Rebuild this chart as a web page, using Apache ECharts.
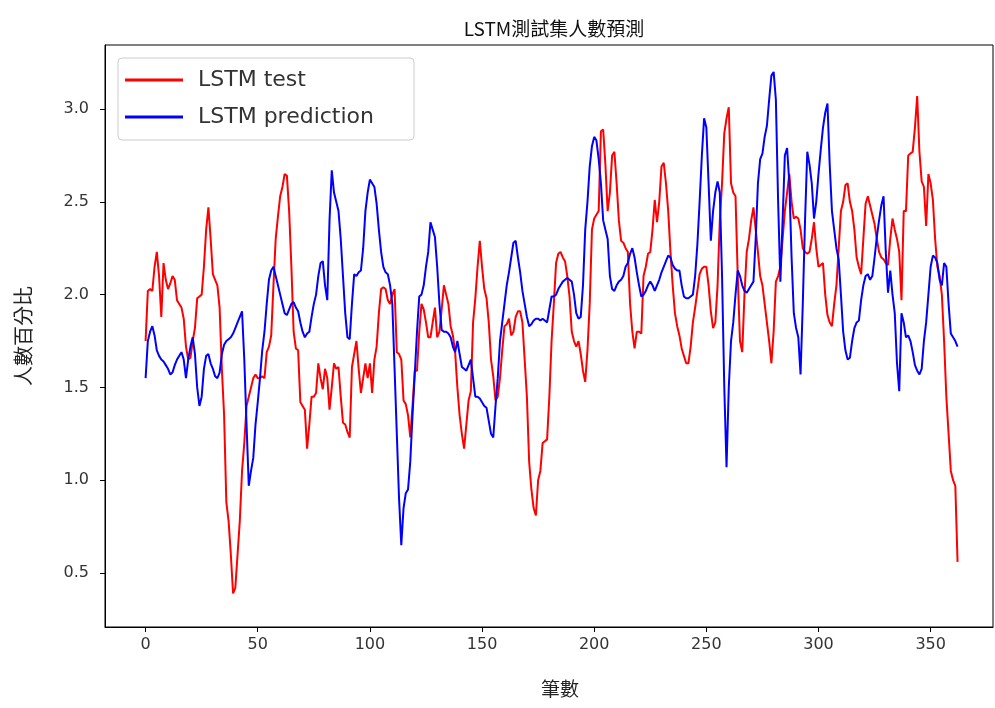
<!DOCTYPE html>
<html>
<head>
<meta charset="utf-8">
<script src="https://cdn.jsdelivr.net/npm/echarts@6/dist/echarts.min.js"></script>
<style>html,body{margin:0;padding:0;background:#fff}#c{width:995px;height:708px}</style>
</head>
<body>
<div id="c"></div>
<script>
const titleText = 'LSTM測試集人數預測';
const xName = '筆數';
const yName = '人數百分比';
const seriesNames = ['LSTM test', 'LSTM prediction'];
const xTicks = [0, 50, 100, 150, 200, 250, 300, 350];
const yTicks = [0.5, 1.0, 1.5, 2.0, 2.5, 3.0];

const testValues = [
1.75,2.02,2.03,2.02,2.15,2.23,2.1,1.88,2.17,2.08,
2.03,2.06,2.1,2.08,1.97,1.95,1.93,1.87,1.72,1.65,
1.66,1.75,1.82,1.98,1.99,2.0,2.15,2.35,2.47,2.3,
2.11,2.08,2.05,1.93,1.6,1.35,0.88,0.78,0.6,0.39,
0.42,0.6,0.78,1.05,1.2,1.4,1.45,1.5,1.55,1.57,
1.55,1.55,1.56,1.55,1.69,1.72,1.78,2.05,2.3,2.42,
2.53,2.58,2.65,2.64,2.45,2.15,1.8,1.71,1.7,1.42,
1.4,1.38,1.17,1.3,1.45,1.45,1.47,1.63,1.55,1.49,
1.6,1.55,1.38,1.5,1.63,1.6,1.61,1.45,1.31,1.3,
1.26,1.23,1.61,1.68,1.75,1.6,1.47,1.55,1.63,1.55,
1.63,1.47,1.65,1.72,1.9,2.03,2.04,2.03,1.97,1.95,
2.0,2.03,1.69,1.68,1.65,1.43,1.41,1.35,1.23,1.4,
1.59,1.59,1.8,1.95,1.92,1.85,1.77,1.77,1.85,1.93,
1.77,1.8,1.92,2.05,2.0,1.95,1.83,1.78,1.69,1.5,
1.35,1.25,1.17,1.3,1.43,1.48,1.85,1.98,2.15,2.29,
2.15,2.03,1.98,1.85,1.65,1.56,1.43,1.45,1.55,1.7,
1.83,1.84,1.87,1.78,1.8,1.88,1.91,1.91,1.85,1.65,
1.45,1.1,0.95,0.85,0.81,1.0,1.05,1.2,1.21,1.22,
1.45,1.75,1.95,2.17,2.22,2.23,2.2,2.18,2.1,1.99,
1.8,1.75,1.72,1.75,1.68,1.59,1.53,1.7,1.95,2.35,
2.41,2.43,2.45,2.88,2.89,2.7,2.45,2.55,2.75,2.77,
2.6,2.4,2.29,2.28,2.25,2.23,1.95,1.8,1.71,1.8,
1.8,1.79,2.1,2.15,2.22,2.23,2.35,2.51,2.39,2.5,
2.69,2.71,2.6,2.45,2.23,2.05,1.9,1.83,1.78,1.71,
1.67,1.63,1.63,1.72,1.85,1.93,2.02,2.11,2.14,2.15,
2.15,2.05,1.91,1.82,1.85,2.05,2.4,2.6,2.87,2.95,
3.01,2.6,2.55,2.53,2.1,1.75,1.69,2.0,2.23,2.3,
2.4,2.47,2.35,2.23,2.1,2.05,1.95,1.85,1.75,1.63,
1.8,2.07,2.1,2.15,2.3,2.45,2.55,2.65,2.5,2.41,
2.42,2.41,2.35,2.25,2.23,2.22,2.23,2.3,2.39,2.25,
2.15,2.16,2.17,2.0,1.89,1.85,1.83,1.95,2.05,2.25,
2.45,2.5,2.59,2.6,2.5,2.45,2.35,2.2,2.15,2.11,
2.3,2.49,2.53,2.48,2.43,2.38,2.3,2.23,2.2,2.19,
2.17,2.16,2.3,2.41,2.35,2.3,2.23,1.97,2.45,2.45,
2.75,2.76,2.77,2.9,3.07,2.77,2.61,2.58,2.37,2.65,
2.6,2.51,2.3,2.15,2.1,2.0,1.75,1.45,1.25,1.05,
1.0,0.97,0.56
];

const predValues = [
1.55,1.75,1.8,1.83,1.78,1.7,1.67,1.65,1.64,1.62,
1.6,1.57,1.58,1.62,1.65,1.67,1.69,1.65,1.55,1.65,
1.72,1.77,1.68,1.5,1.4,1.45,1.6,1.67,1.68,1.63,
1.6,1.56,1.55,1.58,1.68,1.73,1.75,1.76,1.77,1.79,
1.82,1.85,1.88,1.91,1.65,1.3,0.97,1.05,1.12,1.3,
1.42,1.55,1.7,1.8,1.95,2.08,2.13,2.15,2.1,2.05,
2.0,1.95,1.9,1.89,1.92,1.95,1.96,1.93,1.91,1.85,
1.8,1.77,1.79,1.8,1.88,1.95,2.0,2.1,2.17,2.18,
2.05,1.97,2.4,2.67,2.55,2.5,2.45,2.3,2.1,1.9,
1.77,1.76,1.95,2.11,2.1,2.12,2.13,2.25,2.45,2.55,
2.62,2.6,2.58,2.49,2.35,2.23,2.15,2.12,2.11,2.05,
1.95,1.6,1.25,0.9,0.65,0.85,0.93,0.95,1.1,1.35,
1.57,1.8,1.99,2.0,2.05,2.15,2.23,2.39,2.35,2.31,
2.15,1.95,1.81,1.8,1.8,1.79,1.77,1.72,1.69,1.75,
1.68,1.61,1.6,1.59,1.62,1.65,1.55,1.45,1.45,1.44,
1.42,1.4,1.39,1.32,1.25,1.23,1.4,1.55,1.75,1.85,
1.95,2.05,2.12,2.2,2.28,2.29,2.2,2.12,2.02,1.95,
1.88,1.83,1.84,1.86,1.87,1.87,1.86,1.87,1.86,1.85,
1.92,1.99,1.99,2.0,2.03,2.05,2.07,2.08,2.09,2.08,
2.07,2.0,1.9,1.87,1.88,2.05,2.35,2.5,2.69,2.8,
2.85,2.83,2.73,2.6,2.4,2.35,2.3,2.1,2.03,2.02,
2.05,2.07,2.08,2.1,2.15,2.17,2.22,2.25,2.2,2.12,
2.05,1.99,2.0,2.02,2.05,2.07,2.05,2.02,2.05,2.08,
2.12,2.15,2.18,2.21,2.2,2.16,2.14,2.13,2.13,2.05,
1.99,1.98,1.98,1.99,2.0,2.1,2.27,2.5,2.75,2.95,
2.9,2.6,2.29,2.45,2.55,2.61,2.55,2.1,1.5,1.07,
1.5,1.75,1.85,2.0,2.13,2.1,2.05,2.02,2.01,2.03,
2.05,2.07,2.3,2.6,2.73,2.76,2.85,2.91,3.05,3.18,
3.2,3.05,2.5,2.07,2.4,2.75,2.79,2.6,2.2,1.9,
1.82,1.77,1.57,1.95,2.4,2.77,2.7,2.6,2.41,2.5,
2.65,2.78,2.9,2.98,3.03,2.7,2.45,2.35,2.25,2.19,
2.0,1.8,1.7,1.65,1.66,1.75,1.82,1.85,1.86,1.97,
2.05,2.1,2.11,2.08,2.1,2.2,2.31,2.4,2.48,2.53,
2.23,2.01,2.13,2.0,1.9,1.63,1.48,1.9,1.85,1.77,
1.78,1.75,1.69,1.62,1.59,1.57,1.6,1.75,1.85,2.0,
2.15,2.21,2.2,2.17,2.08,2.05,2.17,2.15,1.95,1.79,
1.77,1.75,1.72
];

const testData = testValues.map((v, i) => [i, v]);
const predData = predValues.map((v, i) => [i, v]);

const chart = echarts.init(document.getElementById('c'), null, {renderer: 'canvas'});
const tickFont = {fontFamily: 'DejaVu Sans', fontSize: 16, color: '#333'};
chart.setOption({
  animation: false,
  backgroundColor: '#fff',
  title: {
    text: titleText, left: 549, top: 14, textAlign: 'center',
    textStyle: {fontFamily: 'Noto Sans CJK TC', fontSize: 19, fontWeight: 'normal', color: '#111'}
  },
  grid: {left: 105, right: 2, top: 45, bottom: 81, show: true, borderColor: '#000', borderWidth: 1, backgroundColor: 'transparent'},
  legend: {
    left: 118, top: 58, orient: 'vertical',
    data: seriesNames,
    icon: 'rect', itemWidth: 58, itemHeight: 3, itemGap: 15,
    padding: [11, 40, 12, 7],
    borderColor: '#ccc', borderWidth: 1, borderRadius: 4, backgroundColor: 'rgba(255,255,255,0.85)',
    textStyle: {fontFamily: 'DejaVu Sans', fontSize: 22, color: '#333', padding: [0, 0, 0, 10]}
  },
  xAxis: {
    type: 'value', min: -18.1, max: 377.8,
    name: xName, nameLocation: 'middle', nameGap: 52,
    nameTextStyle: {fontFamily: 'Noto Sans CJK TC', fontSize: 19, color: '#222', padding: [0, 0, 0, 22]},
    axisLine: {show: true, onZero: false, lineStyle: {color: '#000', width: 1}},
    splitLine: {show: false},
    axisTick: {show: true, inside: false, length: 5, lineStyle: {color: '#000'}, customValues: xTicks},
    axisLabel: Object.assign({margin: 10, customValues: xTicks, formatter: v => String(v)}, tickFont)
  },
  yAxis: {
    type: 'value', min: 0.209, max: 3.345,
    name: yName, nameLocation: 'middle', nameGap: 72, nameRotate: 90,
    nameTextStyle: {fontFamily: 'Noto Sans CJK TC', fontSize: 20, color: '#222'},
    axisLine: {show: true, onZero: false, lineStyle: {color: '#000', width: 1}},
    splitLine: {show: false},
    axisTick: {show: true, inside: false, length: 5, lineStyle: {color: '#000'}, customValues: yTicks},
    axisLabel: Object.assign({margin: 16, customValues: yTicks, formatter: v => v.toFixed(1)}, tickFont)
  },
  series: [
    {name: seriesNames[0], type: 'line', data: testData, showSymbol: false, symbol: 'none',
     lineStyle: {color: '#ff0000', width: 2}, itemStyle: {color: '#ff0000'}},
    {name: seriesNames[1], type: 'line', data: predData, showSymbol: false, symbol: 'none',
     lineStyle: {color: '#0000ff', width: 2}, itemStyle: {color: '#0000ff'}}
  ]
});
</script>
</body>
</html>
